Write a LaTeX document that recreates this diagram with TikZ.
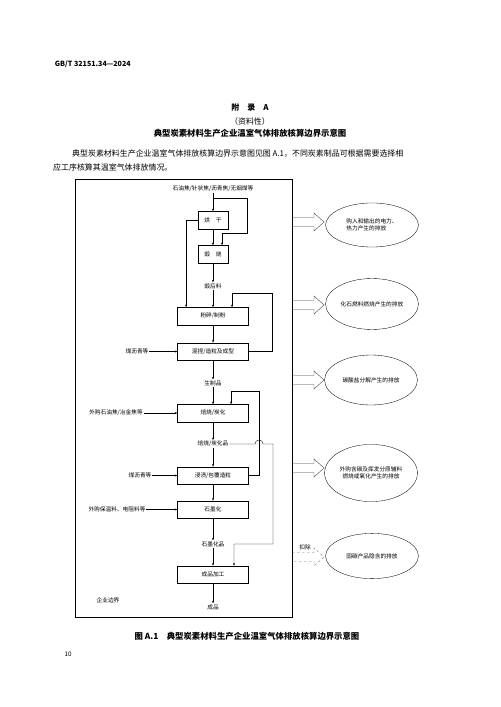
\documentclass[tikz,border=0pt]{standalone}
\usepackage{amsmath,amssymb,fontspec}
\setmainfont{Noto Sans CJK SC}
\usetikzlibrary{shapes.geometric,arrows.meta}

\begin{document}
\begin{tikzpicture}[x=0.42mm,y=-0.42mm,
	dg/.style={font=\fontsize{6.8pt}{8.5pt}\selectfont},
	proc/.style={dg,draw,minimum width=29.8mm,minimum height=7.3mm,inner sep=0pt},
	procs/.style={proc,minimum width=12.6mm},
	lbl/.style={dg,inner sep=1pt},
	emis/.style={dg,draw,ellipse,minimum width=39mm,inner sep=0pt,align=center},
	flow/.style={-{Stealth[length=3pt,width=2.4pt]},line width=0.45pt},
	barrow/.style={draw=black!75,line width=0.45pt}]
			\useasboundingbox (0,0) rectangle (500,707);
			\node[anchor=west,font=\fontsize{8.5pt}{10pt}\selectfont\bfseries] (std) at (52,64) {GB/T 32151.34—2024};
			\node[font=\fontsize{9.5pt}{11pt}\selectfont\bfseries] (app) at (250,108) {附\quad 录\quad A};
			\node[font=\fontsize{9.5pt}{11pt}\selectfont] (info) at (250,121) {（资料性）};
			\node[font=\fontsize{10pt}{12pt}\selectfont\bfseries] (title) at (250,133) {典型炭素材料生产企业温室气体排放核算边界示意图};
			\node[anchor=west,inner sep=0pt,font=\fontsize{9.5pt}{11pt}\selectfont] (par1) at (72,154) {典型炭素材料生产企业温室气体排放核算边界示意图见图 A.1，不同炭素制品可根据需要选择相};
			\node[anchor=west,inner sep=0pt,font=\fontsize{9.5pt}{11pt}\selectfont] (par2) at (53,167) {应工序核算其温室气体排放情况。};
			\draw[line width=0.6pt] (75,179) rectangle (292,617);
			\node[lbl] (raw) at (213,189) {石油焦/针状焦/沥青焦/无烟煤等};
			\node[procs] (dry) at (213,220) {烘\quad 干};
			\node[procs] (calc) at (213,254) {煅\quad 烧};
			\node[lbl] (calcd) at (213,286) {煅后料};
			\node[proc] (mill) at (213,316) {粉碎/制粉};
			\node[proc] (knead) at (213,351.5) {混捏/造粒及成型};
			\node[lbl] (green) at (213,383) {生制品};
			\node[proc] (bake) at (213,413) {焙烧/炭化};
			\node[lbl] (baked) at (213,444) {焙烧/炭化品};
			\node[proc] (imp) at (213,475.5) {浸渍/包覆造粒};
			\node[proc] (graph) at (213,509.5) {石墨化};
			\node[lbl] (graphd) at (213,544) {石墨化品};
			\node[proc] (fin) at (213,574.5) {成品加工};
			\node[lbl] (prod) at (213,607) {成品};
			\node[lbl] (pitcha) at (137,351.5) {煤沥青等};
			\node[lbl] (coke) at (116,413) {外购石油焦/冶金焦等};
			\node[lbl] (pitchb) at (140,475.5) {煤沥青等};
			\node[lbl] (insul) at (117,509.5) {外购保温料、电阻料等};
			\node[lbl] (border) at (108,600) {企业边界};
			\coordinate (b1) at (213,198);
			\coordinate (r0) at (247,233);
			\coordinate (r1) at (272,293);
			\coordinate (r2) at (259,391);
			\coordinate (h1) at (255,444);
			\coordinate (r3) at (273,544);
			\draw[flow] (raw) -- (dry);
			\draw[flow] (b1) -| (r0) -| ([xshift=3.8mm]calc.north);
			\draw[flow] (dry) -- (calc);
			\draw[flow] (calc) -- (calcd);
			\draw[flow] (calcd) -- (mill);
			\draw[flow] (dry.west) -| ([xshift=-11.3mm]mill.north);
			\draw[flow] (mill) -- (knead);
			\draw[flow] (knead.east) -| (r1) -| ([xshift=8mm]mill.north);
			\draw[flow] (pitcha) -- (knead);
			\draw[flow] (knead) -- (green);
			\draw[flow] (green) -- (bake);
			\draw[flow] (coke) -- (bake);
			\draw[flow] (bake) -- (baked);
			\draw[flow] (baked) -- (imp);
			\draw[flow] (pitchb) -- (imp);
			\draw[flow] (imp.east) -| (r2) -| ([xshift=7.6mm]bake.north);
			\draw[flow] (baked.east) -- (h1) arc[start angle=180,end angle=0,radius=1.7mm] -| (r3) -| ([xshift=8.8mm]fin.north);
			\draw[flow] (imp) -- (graph);
			\draw[flow] (insul) -- (graph);
			\draw[flow] (graph) -- (graphd);
			\draw[flow] (graphd) -- (fin);
			\draw[flow] (fin) -- (prod);
			\foreach \y in {222,305,380,468}
				\draw[barrow] (292,\y-4.5) -- (314,\y-4.5) -- (314,\y-9) -- (324,\y) -- (314,\y+9) -- (314,\y+4.5) -- (292,\y+4.5);
			\draw[barrow,dashed,draw=black!55] (292,552.5) -- (314,552.5) -- (314,548) -- (324,557) -- (314,566) -- (314,561.5) -- (292,561.5);
			\node[lbl] (deduct) at (305,547) {扣除};
			\node[emis,minimum height=18.5mm,align=left] (e1) at (372,225) {购入和输出的电力、\\热力产生的排放};
			\node[emis,minimum height=21.4mm] (e2) at (372,304) {化石燃料燃烧产生的排放};
			\node[emis,minimum height=21mm] (e3) at (371,380) {碳酸盐分解产生的排放};
			\node[emis,minimum height=24mm] (e4) at (371,473) {外购含碳及挥发分原辅料\\燃烧或氧化产生的排放};
			\node[emis,minimum height=19mm] (e5) at (372,556) {固碳产品隐含的排放};
			\node[font=\fontsize{10pt}{12pt}\selectfont\bfseries] (cap) at (247,636) {图 A.1\quad 典型炭素材料生产企业温室气体排放核算边界示意图};
			\node[font=\fontsize{7.5pt}{9pt}\selectfont] (page) at (68,654) {10};
			\end{tikzpicture}
\end{document}
